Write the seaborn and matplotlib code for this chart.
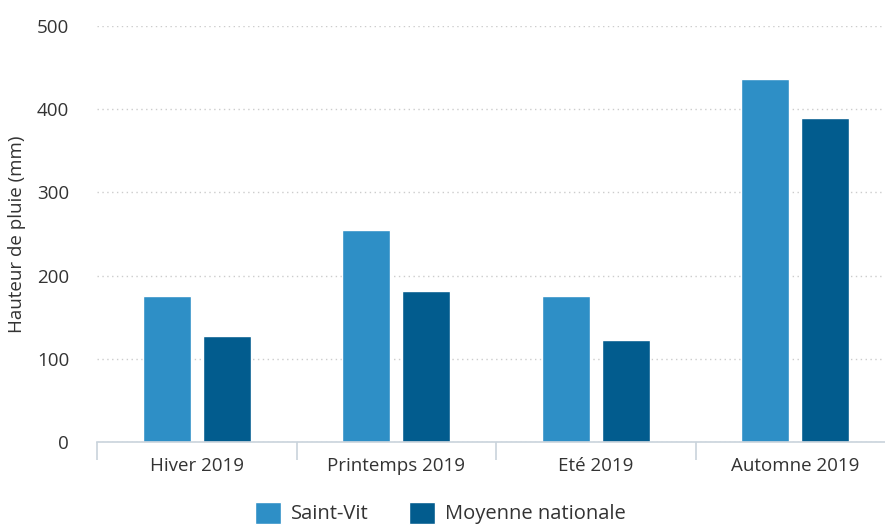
import pandas as pd
import matplotlib.pyplot as plt
import seaborn as sns

# Données
saisons = ["Hiver 2019", "Printemps 2019", "Eté 2019", "Automne 2019"]
saint_vit = [175, 255, 175, 436]
moyenne_nationale = [128, 182, 123, 390]
series = ["Saint-Vit", "Moyenne nationale"]
couleurs = ["#2E8FC6", "#025C8E"]

df = pd.DataFrame({
    "saison": saisons * 2,
    "serie": [series[0]] * 4 + [series[1]] * 4,
    "pluie": saint_vit + moyenne_nationale,
})

sns.set_style("white")
plt.rcParams["font.family"] = ["Open Sans", "DejaVu Sans"]

fig = plt.figure(figsize=(8.85, 5.27), dpi=100)
ax = fig.add_axes([97 / 885, 85 / 527, 798 / 885, 416 / 527])

sns.barplot(data=df, x="saison", y="pluie", hue="serie", palette=couleurs,
            width=0.6, gap=0.2, saturation=1, ax=ax)

ax.set_ylim(0, 500)
ax.set_xlim(-0.5, 3.5)
ax.set_yticks([0, 100, 200, 300, 400, 500])
ax.yaxis.grid(True, linestyle=(0, (1, 2.5)), color="#cccccc", linewidth=1)
ax.set_axisbelow(True)

for s in ["top", "right", "left"]:
    ax.spines[s].set_visible(False)
ax.spines["bottom"].set_color("#c9d3dc")
ax.spines["bottom"].set_linewidth(1.2)

ax.set_xticks([-0.5, 0.5, 1.5, 2.5, 3.5], minor=True)
ax.tick_params(axis="x", which="minor", bottom=True, length=13, color="#c9d3dc", width=1.2)
ax.tick_params(axis="x", which="major", length=0, pad=11, labelsize=13.5, labelcolor="#333333")
ax.tick_params(axis="y", length=0, pad=20, labelsize=13.5, labelcolor="#333333")

ax.set_xlabel("")
ax.set_ylabel("Hauteur de pluie (mm)", fontsize=13.5, color="#333333", labelpad=8)

ax.legend(loc="upper center", bbox_to_anchor=(0.43, -0.1), ncol=2, frameon=False,
          fontsize=14.5, handlelength=1.3, handleheight=1.3, columnspacing=2,
          handletextpad=0.5, labelcolor="#333333")

fig.savefig("out.png", dpi=100)
